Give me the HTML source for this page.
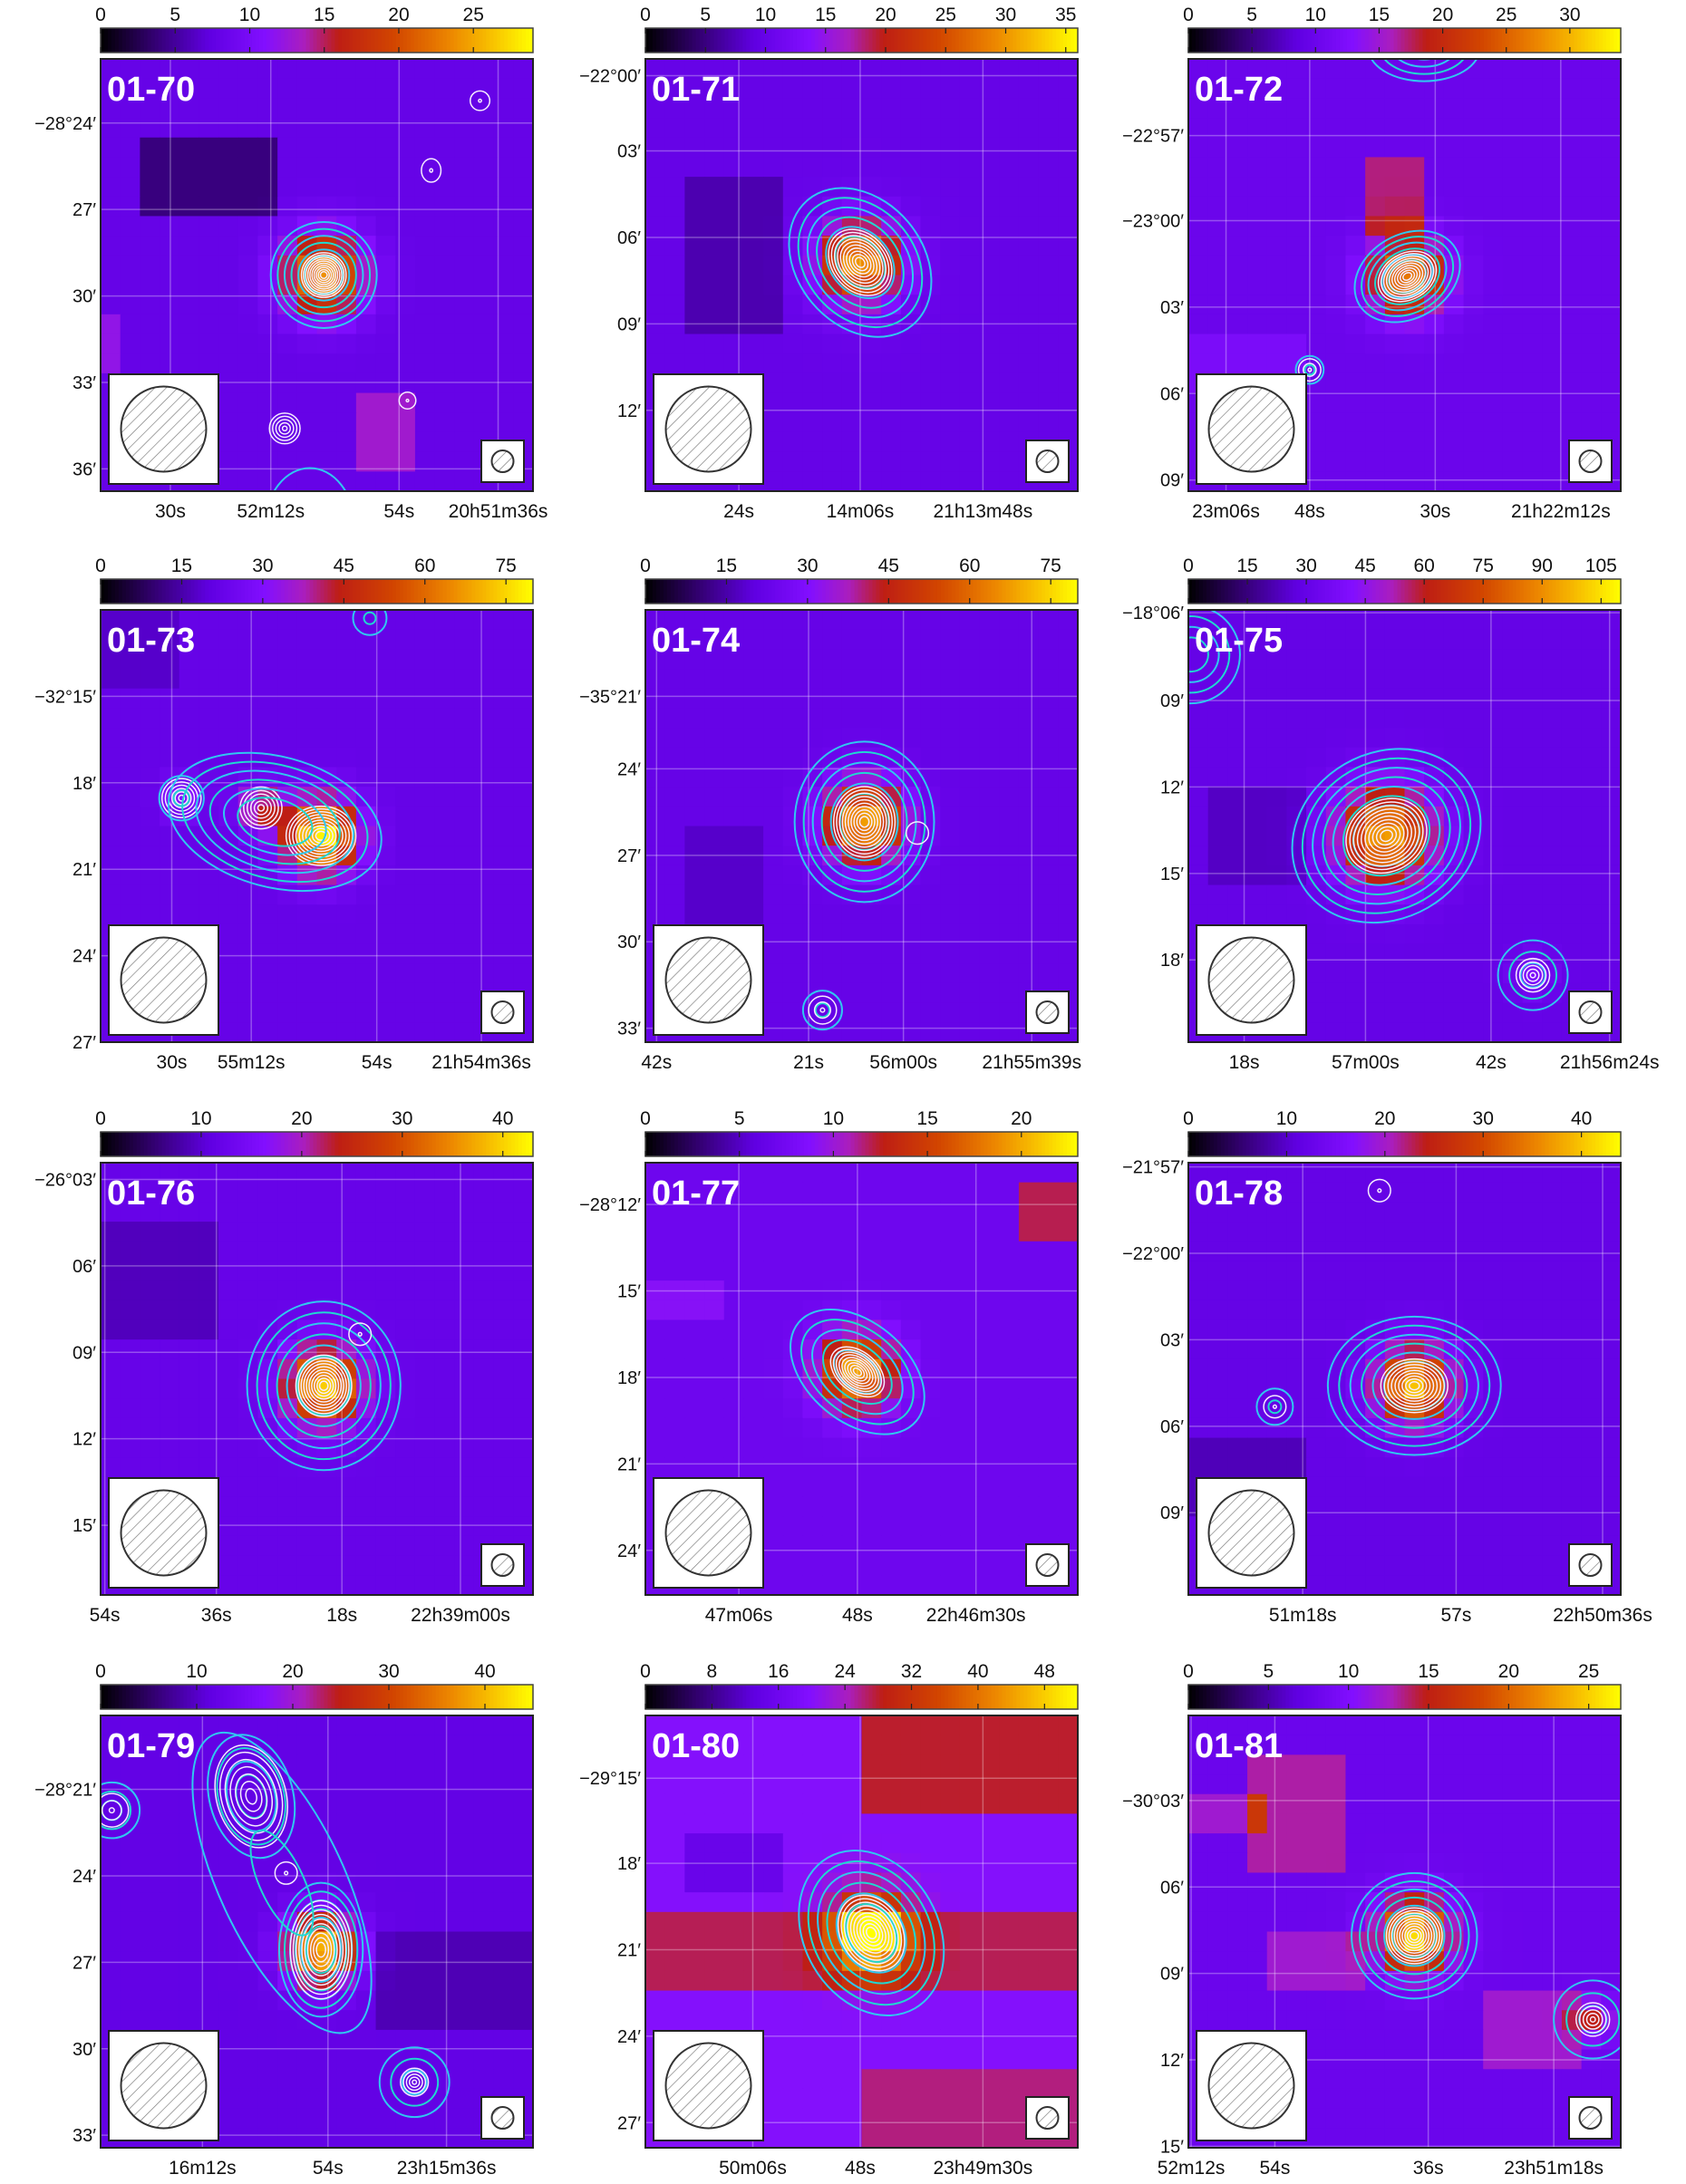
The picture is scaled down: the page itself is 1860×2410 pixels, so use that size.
<!DOCTYPE html>
<html><head><meta charset="utf-8"><style>
body{margin:0;background:#fff}
svg{display:block;font-family:"Liberation Sans","DejaVu Sans",sans-serif}
</style></head><body>
<svg id="fig" width="1860" height="2410" viewBox="0 0 1860 2410" xmlns="http://www.w3.org/2000/svg">
<defs>
<pattern id="hatch" patternUnits="userSpaceOnUse" width="9" height="9" patternTransform="rotate(45)">
<line x1="0" y1="0" x2="0" y2="9" stroke="#777" stroke-width="1.3"/></pattern>
</defs>
</svg>
<script>
// ---- data ----
const panelNames=["01-70","01-71","01-72","01-73","01-74","01-75","01-76","01-77","01-78","01-79","01-80","01-81"];
const cbMax=[29,36,34,80,80,110,43,23,44,45,52,27];
const cbStep=[5,5,5,15,15,15,10,5,10,10,8,5];
const bgLevel=[8,10,10,22,22,30,12,7,12,12,20,8];
const yTickLabels=[
["−28°24′","27′","30′","33′","36′"],["−22°00′","03′","06′","09′","12′"],["−22°57′","−23°00′","03′","06′","09′"],
["−32°15′","18′","21′","24′","27′"],["−35°21′","24′","27′","30′","33′"],["−18°06′","09′","12′","15′","18′"],
["−26°03′","06′","09′","12′","15′"],["−28°12′","15′","18′","21′","24′"],["−21°57′","−22°00′","03′","06′","09′"],
["−28°21′","24′","27′","30′","33′"],["−29°15′","18′","21′","24′","27′"],["−30°03′","06′","09′","12′","15′"]];
const yTickPos=[[46,108,170,232,294],[12,66,128,190,252],[55,116,178,240,302],[62,124,186,248,310],[62,114,176,238,300],[2,65,127,189,251],[12,74,136,198,260],[30,92,154,216,278],[3,65,127,189,251],[53,115,177,239,301],[45,106,168,230,292],[61,123,185,247,309]];
const xTickLabels=[["30s","52m12s","54s","20h51m36s"],["24s","14m06s","21h13m48s"],["23m06s","48s","30s","21h22m12s"],
["30s","55m12s","54s","21h54m36s"],["42s","21s","56m00s","21h55m39s"],["18s","57m00s","42s","21h56m24s"],
["54s","36s","18s","22h39m00s"],["47m06s","48s","22h46m30s"],["51m18s","57s","22h50m36s"],
["16m12s","54s","23h15m36s"],["50m06s","48s","23h49m30s"],["52m12s","54s","36s","23h51m18s"]];
const xTickPos=[[50,122,214,285],[67,154,242],[27,87,177,267],[51,108,198,273],[8,117,185,277],[40,127,217,302],[3,83,173,258],[67,152,237],[82,192,297],[73,163,248],[77,154,242],[2,62,172,262]];
// sources: [x, y, amp, sigma, cyanR, nCyan, whiteR, nWhite, elong, angle]
const sources=[
[[160,155,25,20,38,6,16,10,1,0],[272,30,0,5,0,0,7,2,1,0],[237,80,0,5,0,0,7,2,1.2,0],[220,245,0,5,0,0,6,2,1,0],[132,265,0,5,0,0,11,5,1,0],[150,335,0,5,32,1,8,3,1.3,0]],
[[154,146,31,20,45,6,20,10,1.3,-40]],
[[157,156,28,19,40,6,22,10,0.75,-30],[169,-8,0,5,40,4,0,0,0.6,0],[87,223,0,5,10,2,8,3,1,0]],
[[158,162,80,18,0,0,25,10,0.85,0],[115,142,45,11,0,0,15,6,1,0],[58,135,32,10,16,2,14,6,1,0],[125,152,0,5,78,6,0,0,0.6,15],[193,6,0,5,12,2,0,0,1,0]],
[[157,152,70,20,50,6,22,10,1.15,0],[127,287,0,5,14,2,10,3,1,0],[195,160,0,5,0,0,8,1,1,0]],
[[142,162,95,24,70,7,30,10,0.85,-30],[247,262,40,10,25,3,12,5,1,0],[2,32,0,5,35,4,0,0,1,0]],
[[160,160,40,19,55,6,20,10,1.1,0],[186,123,0,5,0,0,8,2,1,0]],
[[152,150,20,19,55,5,22,9,0.65,40]],
[[162,160,40,19,62,6,24,9,0.8,0],[62,175,0,5,13,2,8,2,1,0],[137,20,0,5,0,0,8,2,1,0]],
[[158,168,42,17,30,6,22,10,1.6,0],[108,58,12,12,30,4,25,7,1.5,-15],[130,120,0,5,45,2,0,0,2.6,-25],[133,113,0,5,0,0,8,2,1,0],[225,263,0,5,25,3,10,5,1,0],[8,68,0,5,20,3,12,3,1,0]],
[[162,156,52,19,48,6,22,10,1.3,-30]],
[[162,158,26,18,45,6,20,10,1,0],[290,218,15,10,28,3,12,5,1,0]]];
// patches: [x0,y0,x1,y1,add]
const patches=[
[[30,50,130,110,-4],[180,240,230,290,5],[0,180,15,230,4]],
[[30,80,100,200,-3]],
[[120,70,170,120,7],[0,200,80,240,2]],
[[0,0,60,60,-4]],
[[30,150,90,220,-4]],
[[20,120,90,200,-6]],
[[0,40,80,120,-3]],
[[270,20,310,60,5],[0,90,50,110,2]],
[[0,200,80,260,-3]],
[[200,150,310,230,-3]],
[[150,0,310,70,8],[0,140,310,200,7],[150,255,310,310,6],[30,80,100,120,-5]],
[[40,30,110,110,5],[0,60,60,90,4],[60,160,120,200,4],[210,200,280,250,4]]];

// ---- layout ----
const colL=[111,712,1311], rowT=[65,673,1283,1893], SZ=477, K=SZ/310, N=22;
const svg=document.getElementById('fig'), NS='http://www.w3.org/2000/svg';
function mk(tag,attrs,parent){const e=document.createElementNS(NS,tag);for(const k in attrs)e.setAttribute(k,attrs[k]);(parent||svg).appendChild(e);return e;}
const stops=[[0,[0,0,0]],[0.12,[50,0,110]],[0.25,[95,0,225]],[0.38,[130,15,255]],[0.47,[170,30,190]],[0.55,[190,30,20]],[0.68,[210,70,0]],[0.8,[235,130,0]],[0.9,[248,190,0]],[1,[255,255,0]]];
function cmap(f){f=Math.max(0,Math.min(1,f));for(let i=1;i<stops.length;i++){if(f<=stops[i][0]){const a=stops[i-1],b=stops[i],t=(f-a[0])/(b[0]-a[0]);const c=a[1].map((v,j)=>Math.round(v+(b[1][j]-v)*t));return`rgb(${c})`;}}return'rgb(255,255,0)';}

panelNames.forEach((name,p)=>{
  const L=colL[p%3], T=rowT[Math.floor(p/3)];
  const g=mk('g',{});
  
  
  const sx=v=>L+v*K, sy=v=>T+v*K;
  const hm=mk('g',{},g);
  
  
  const cs=SZ/N;
  for(let j=0;j<N;j++)for(let i=0;i<N;i++){
    const cx=(i+0.5)*310/N, cy=(j+0.5)*310/N;
    let v=bgLevel[p];
    patches[p].forEach(q=>{if(cx>=q[0]&&cx<=q[2]&&cy>=q[1]&&cy<=q[3])v+=q[4];});
    sources[p].forEach(s=>{if(s[2]>0){const d2=((cx-s[0])**2+(cy-s[1])**2)/(2*s[3]*s[3]);v+=(s[2]-bgLevel[p])*Math.exp(-d2);}});
    const r=mk('rect',{x:(L+i*cs).toFixed(2),y:(T+j*cs).toFixed(2),width:(cs+0.6).toFixed(2),height:(cs+0.6).toFixed(2),fill:cmap(v/cbMax[p])},hm);
    
    
  }
  xTickPos[p].forEach(x=>{const l=mk('line',{x1:sx(x),x2:sx(x),y1:T,y2:T+SZ,stroke:'#fff','stroke-opacity':0.3,'stroke-width':1.5},g);});
  yTickPos[p].forEach(y=>{const l=mk('line',{x1:L,x2:L+SZ,y1:sy(y),y2:sy(y),stroke:'#fff','stroke-opacity':0.3,'stroke-width':1.5},g);});
  const cg=mk('g',{'clip-path':`url(#clip${p})`},g);
  const cp=mk('clipPath',{id:'clip'+p},svg);mk('rect',{x:L,y:T,width:SZ,height:SZ},cp);
  
  
  sources[p].forEach(s=>{
    const [x,y,,,cR,nC,wR,nW,el,ang]=s;
    for(let k=0;k<nC;k++){const r=cR*(1-0.65*k/Math.max(1,nC-1))*K;
      const e=mk('ellipse',{cx:sx(x),cy:sy(y),rx:r,ry:r*el,transform:`rotate(${ang} ${sx(x)} ${sy(y)})`,fill:'none',stroke:k%2?'#20d8d0':'#30c8f0','stroke-width':2},cg);
      }
    for(let k=0;k<nW;k++){const r=wR*(1-0.85*k/Math.max(1,nW-1))*K;
      const e=mk('ellipse',{cx:sx(x),cy:sy(y),rx:r,ry:r*el,transform:`rotate(${ang} ${sx(x)} ${sy(y)})`,fill:'none',stroke:'#f6ecff','stroke-width':1.5},cg);
      }
  });
  const fr=mk('rect',{x:L,y:T,width:SZ,height:SZ,fill:'none',stroke:'#222','stroke-width':2},g);
  
  const b1=mk('rect',{x:L+9,y:T+SZ-129,width:121,height:121,fill:'#fff',stroke:'#222','stroke-width':2},g);
  
  const c1=mk('circle',{cx:L+69.5,cy:T+SZ-68.5,r:47,fill:'url(#hatch)',stroke:'#333','stroke-width':2},g);
  
  const b2=mk('rect',{x:L+SZ-57,y:T+SZ-56,width:47,height:46,fill:'#fff',stroke:'#222','stroke-width':2},g);
  
  const c2=mk('circle',{cx:L+SZ-33.5,cy:T+SZ-33,r:12,fill:'url(#hatch)',stroke:'#333','stroke-width':2},g);
  
  const lb=mk('text',{x:L+7,y:T+46,fill:'#fff','font-size':38,'font-weight':'bold'},g);lb.textContent=name;
  
  yTickLabels[p].forEach((t,k)=>{const e=mk('text',{x:L-5,y:sy(yTickPos[p][k])+7,'text-anchor':'end','font-size':20,fill:'#111'},g);e.textContent=t;});
  xTickLabels[p].forEach((t,k)=>{const e=mk('text',{x:sx(xTickPos[p][k]),y:T+SZ+29,'text-anchor':'middle','font-size':21,fill:'#111'},g);e.textContent=t;});
  const cbY=T-34, cbg=mk('g',{},g);
  
  const nSeg=120;
  for(let k=0;k<nSeg;k++){mk('rect',{x:L+k*SZ/nSeg,y:cbY,width:SZ/nSeg+0.6,height:27,fill:cmap((k+0.5)/nSeg)},cbg);}
  mk('rect',{x:L,y:cbY,width:SZ,height:27,fill:'none',stroke:'#444','stroke-width':1.5},cbg);
  for(let v=0;v<=cbMax[p];v+=cbStep[p]){
    const x=L+v/cbMax[p]*SZ;
    mk('line',{x1:x,x2:x,y1:cbY,y2:cbY+6,stroke:'#222','stroke-width':1.2},cbg);
    mk('line',{x1:x,x2:x,y1:cbY+21,y2:cbY+27,stroke:'#222','stroke-width':1.2},cbg);
    const e=mk('text',{x:x,y:cbY-8,'text-anchor':'middle','font-size':21,fill:'#111'},cbg);e.textContent=v;
    
  }
});
</script>
</body></html>
